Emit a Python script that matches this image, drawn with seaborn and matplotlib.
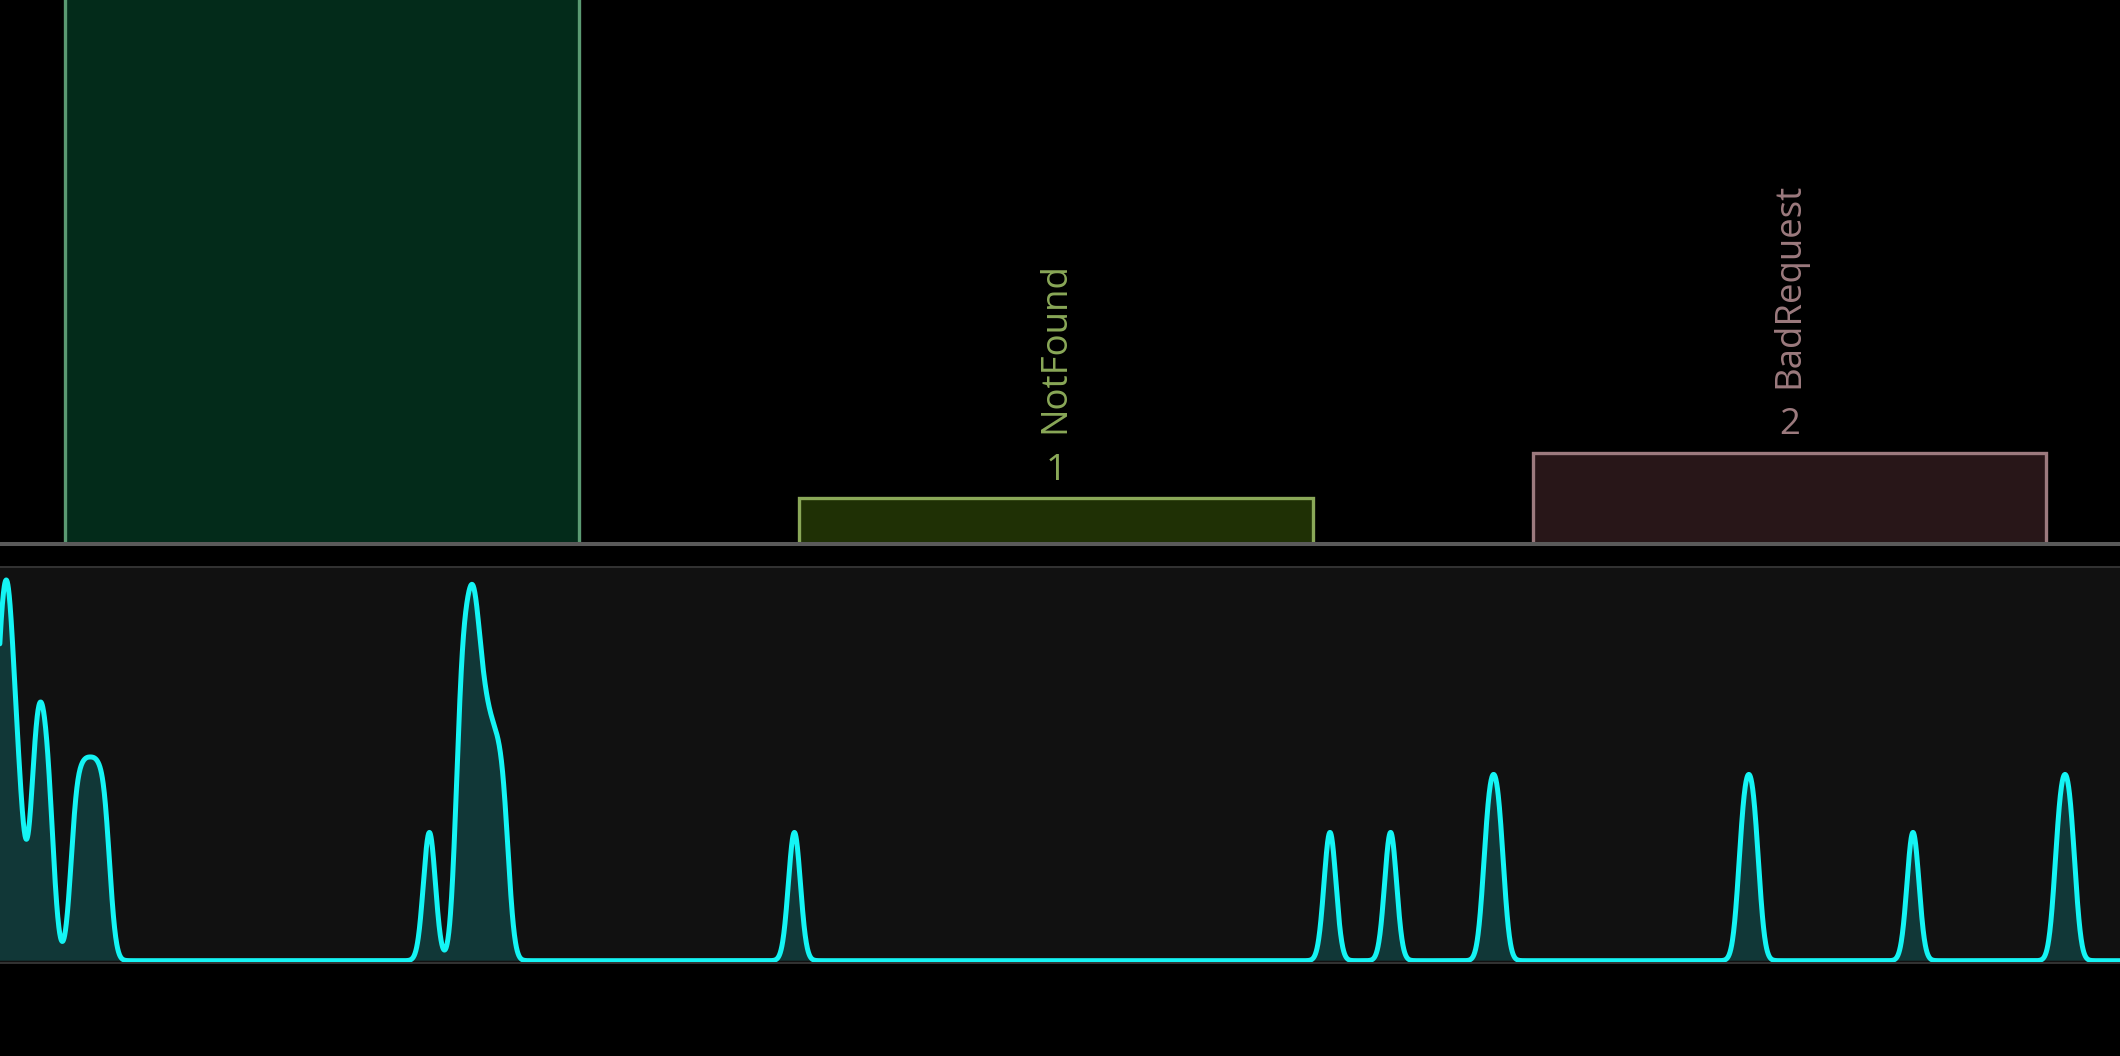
import numpy as np
import matplotlib.pyplot as plt
import seaborn as sns

# Response status counts (top panel)
status_names = ['OK', 'NotFound', 'BadRequest']
status_counts = [14, 1, 2]
fill_colors = ['#032b1a', '#1f3005', '#281618']
edge_colors = ['#5a9a72', '#8aa858', '#9c7a7e']

# Request timestamps in seconds (bottom panel, density of events)
event_times = [
    -0.15, 0.10, 0.40, 0.50, 0.95, 1.73, 2.05, 2.43, 3.80, 4.28, 4.75, 5.23,
    21.47, 23.00, 23.20, 23.55, 23.70, 24.00, 24.35, 24.75, 25.18,
    39.72,
    66.50, 69.53, 74.44, 74.92, 87.20, 87.68, 95.65, 103.01, 103.49,
]
timeline_end = 106
kernel_sigma = 0.30

sns.set_theme(style='dark')
plt.rcParams['font.family'] = ['Open Sans', 'DejaVu Sans']

fig = plt.figure(figsize=(10.6, 5.28), dpi=200, facecolor='black')
ax_bar = fig.add_axes([0, 0.4851, 1, 0.5149])
ax_kde = fig.add_axes([0, 0.0881, 1, 0.3753])

# Bars
sns.barplot(x=status_names, y=status_counts, hue=status_names, palette=fill_colors,
            width=0.7, saturation=1, legend=False, ax=ax_bar)
for patch, ec in zip(ax_bar.patches, edge_colors):
    patch.set_edgecolor(ec)
    patch.set_linewidth(1.2)

ymax_bar = 12
for i, (name, val) in enumerate(zip(status_names, status_counts)):
    if val >= ymax_bar:
        continue
    ax_bar.annotate(str(val), xy=(i, val), xytext=(0, 6.8), textcoords='offset points',
                    ha='center', va='baseline', fontsize=13.2, color=edge_colors[i])
    ax_bar.annotate(name, xy=(i, val), xytext=(0, 23.5), textcoords='offset points',
                    ha='center', va='bottom', rotation=90, fontsize=13.2, color=edge_colors[i])

ax_bar.set_ylim(0, ymax_bar)
ax_bar.set_xlim(-0.439, 2.4506)
ax_bar.set_facecolor('black')
ax_bar.set(xticks=[], yticks=[], xlabel='', ylabel='')
for side in ['left', 'right', 'top']:
    ax_bar.spines[side].set_visible(False)
ax_bar.spines['bottom'].set_color('#5a5a5a')
ax_bar.spines['bottom'].set_linewidth(1.45)

# Event density
bw = kernel_sigma / np.std(event_times, ddof=1)
sns.kdeplot(x=event_times, bw_method=bw, gridsize=8000, cut=12, fill=True,
            color='#14f4f4', alpha=0.17, linewidth=0, ax=ax_kde)
sns.kdeplot(x=event_times, bw_method=bw, gridsize=8000, cut=12,
            color='#14f4f4', linewidth=1.8, ax=ax_kde)

peak = ax_kde.lines[0].get_ydata().max()
ax_kde.set_ylim(-0.006 * peak, 1.035 * peak)
ax_kde.set_xlim(0, timeline_end)
ax_kde.set_facecolor('#111111')
ax_kde.set(xticks=[], yticks=[], xlabel='', ylabel='')
for side in ['left', 'right']:
    ax_kde.spines[side].set_visible(False)
for side in ['top', 'bottom']:
    ax_kde.spines[side].set_color('#333333')
    ax_kde.spines[side].set_linewidth(0.7)

fig.savefig('out.png', dpi=200, facecolor='black')
